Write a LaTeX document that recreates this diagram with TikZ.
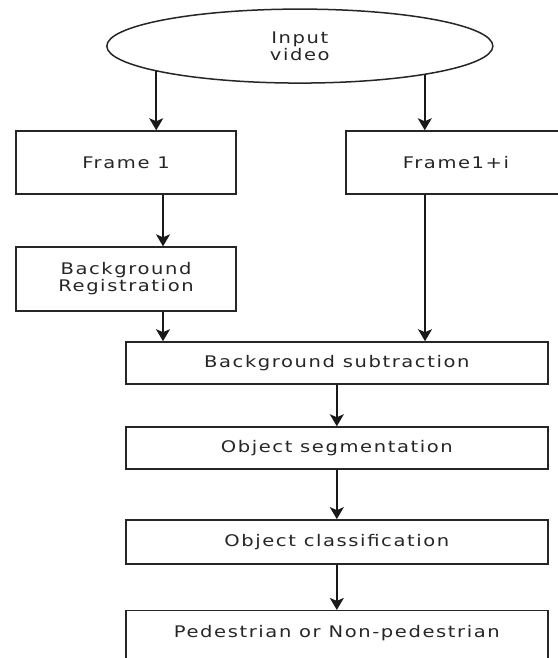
\documentclass[tikz,border=0pt]{standalone}
\usepackage{fontspec}
\usepackage{tikz}
\usetikzlibrary{shapes.geometric}
\usetikzlibrary{arrows.meta}
\usetikzlibrary{positioning,calc}
\newfontfamily\boxfont[FakeStretch=1.22,LetterSpace=10]{DejaVu Sans}

\tikzset{
	box/.style={draw=black!85, rectangle, line width=1.5pt, inner sep=0pt, align=center,
		font=\boxfont\fontsize{16}{17}\selectfont, text=black!85},
	arr/.style={line width=1.5pt, draw=black!90, -{Stealth[length=12pt,width=14pt,inset=3pt]}}
}

\begin{document}
\begin{tikzpicture}
	\useasboundingbox (0,0) rectangle (19.61,-23.13);
	\clip (0,0) rectangle (19.61,-23.13);
	\node [box, ellipse, minimum width=13.57cm, minimum height=2.60cm] (input) at (10.54,-1.62) {Input\\video};
	\node [box, minimum width=7.73cm, minimum height=2.21cm] (frame1) at (4.43,-5.71) {Frame 1};
	\node [box, minimum width=7.73cm, minimum height=2.21cm] (framei) at (16.03,-5.71) {Frame1+i};
	\node [box, minimum width=7.73cm, minimum height=2.25cm] (reg) at (4.43,-9.81) {Background\\Registration};
	\node [box, minimum width=14.83cm, minimum height=1.48cm] (sub) at (11.84,-12.76) {Background subtraction};
	\node [box, minimum width=14.83cm, minimum height=1.48cm] (seg) at (11.84,-15.75) {Object segmentation};
	\node [box, minimum width=14.83cm, minimum height=1.55cm] (cls) at (11.84,-19.05) {Object classification};
	\node [box, minimum width=14.83cm, text height=27pt, text depth=40pt, anchor=north] (ped) at (11.84,-21.44) {Pedestrian or Non-pedestrian};
	% arrow columns
	\coordinate (lcol) at (5.73,0);
	\coordinate (rcol) at (14.94,0);
	\draw [arr] (input.190.75) -- (input.190.75 |- frame1.north);
	\draw [arr] (input.347.3) -- (input.347.3 |- framei.north);
	\draw [arr] (lcol |- frame1.south) -- (lcol |- reg.north);
	\draw [arr] (lcol |- reg.south) -- (lcol |- sub.north);
	\draw [arr] (rcol |- framei.south) -- (rcol |- sub.north);
	\draw [arr] (sub) -- (seg);
	\draw [arr] (seg) -- (cls);
	\draw [arr] (cls) -- (ped);
\end{tikzpicture}
\end{document}
